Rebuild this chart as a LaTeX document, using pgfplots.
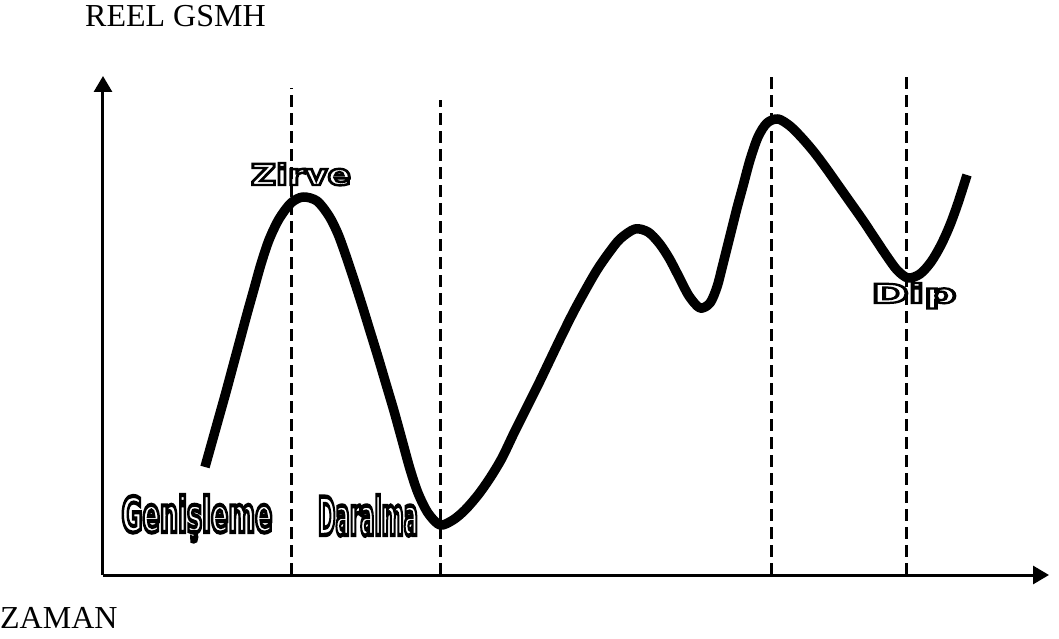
\documentclass[border=0pt]{standalone}
\usepackage{pgfplots}
\pgfplotsset{compat=1.18}
\usetikzlibrary{arrows.meta}
\usepackage{fontspec}
\setmainfont{Liberation Serif}
\newfontfamily\labfont{DejaVu Sans Condensed Bold}
\newfontfamily\widefont{DejaVu Sans Bold}
\newcommand{\outl}[1]{\special{pdf:literal direct 1 Tr 0.85 w}#1\special{pdf:literal direct 0 Tr}}
\begin{document}
\begin{tikzpicture}
\begin{axis}[
  scale only axis,
  width=946pt, height=499pt,
  xmin=103, xmax=1049, ymin=64, ymax=563,
  axis lines=left,
  axis line style={line width=3pt},
  x axis line style={-{Triangle[length=16pt,width=18pt]}},
  y axis line style={-{Triangle[length=16pt,width=18pt]}},
  xtick=\empty, ytick=\empty,
  clip=false,
]
\path (axis cs:0,0) rectangle (axis cs:1059,639);
% dashed phase lines
\addplot[black, line width=3pt, dash pattern=on 12pt off 6pt] coordinates {(291,64) (291,551)};
\addplot[black, line width=3pt, dash pattern=on 12pt off 6pt] coordinates {(440,64) (440,539)};
\addplot[black, line width=3pt, dash pattern=on 12pt off 6pt] coordinates {(771,64) (771,566)};
\addplot[black, line width=3pt, dash pattern=on 12pt off 6pt] coordinates {(906,64) (906,566)};
% business cycle curve
\addplot[black, line width=9.5pt, smooth, line cap=butt, line join=round] coordinates {
(205,172) (212,197) (219,222) (226,247) (233,273) (240,299) (247,325)
(254,350) (261,375) (269,399) (279,420) (291,436) (303,442)
(317,438) (329,423) (338,405) (346,383) (354,359) (362,334) (370,308)
(378,282) (386,255) (394,228) (402,199) (410,170) (418,146) (428,126)
(440,114) (453,119) (465,129) (478,144) (490,161) (502,181) (514,206)
(526,230) (538,254) (550,279) (562,304) (574,328) (586,350) (597,369)
(608,385) (620,400) (635,410) (648,407) (659,396) (669,381) (679,362)
(689,343) (700,331) (710,336) (717,352) (722,371) (727,391) (732,411)
(737,431) (743,453) (750,479) (758,502) (767,516) (778,520) (790,513)
(802,501) (814,487) (826,471) (838,454) (850,437) (862,420) (874,402)
(886,384) (897,369) (908,361) (920,365) (931,377) (941,394) (950,414)
(958,436) (967,464)
};
% labels
\node[anchor=base west, inner sep=0pt, font=\fontsize{32}{38}\selectfont] at (axis cs:85,612) {REEL GSMH};
\node[anchor=base west, inner sep=0pt, font=\fontsize{32}{38}\selectfont] at (axis cs:0,11) {ZAMAN};
\node[anchor=base, inner sep=0pt] at (axis cs:301,454) {\resizebox{100pt}{22pt}{\widefont\outl{Zirve}}};
\node[anchor=base, inner sep=0pt] at (axis cs:914,336) {\resizebox{85pt}{20pt}{\widefont\outl{Dip}}};
\node[anchor=base, inner sep=0pt] at (axis cs:197,107) {\resizebox{151pt}{37pt}{\labfont\outl{Genişleme}}};
\node[anchor=base, inner sep=0pt] at (axis cs:368,104) {\resizebox{100pt}{40pt}{\labfont\outl{Daralma}}};
\end{axis}
\end{tikzpicture}
\end{document}
